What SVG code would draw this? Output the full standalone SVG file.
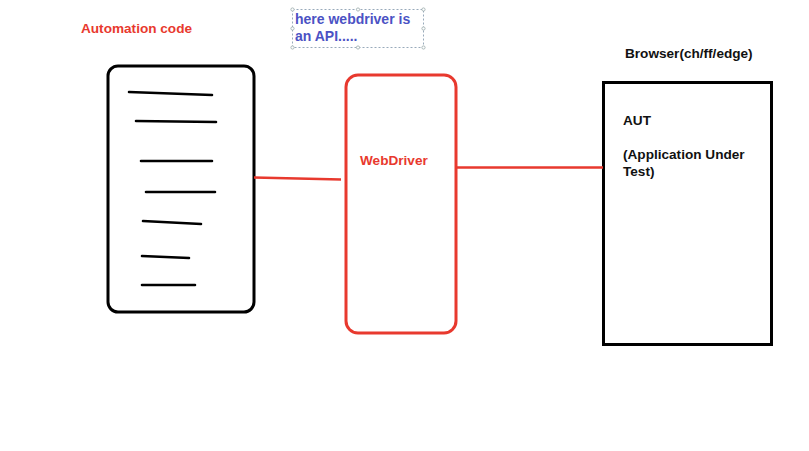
<svg xmlns="http://www.w3.org/2000/svg" width="809" height="451" viewBox="0 0 809 451">
<style>
.t{font-family:"Liberation Sans",Arial,sans-serif;font-weight:bold;font-size:13.6px}
.red{fill:#e8392e}
.blk{fill:#111}
.blue{fill:#4b52c4;font-size:14px}
.code{stroke:#000;stroke-width:2.6;stroke-linecap:round;fill:none}
.conn{stroke:#e8392e;stroke-width:2.6;fill:none}
.h{fill:#fff;stroke:#9aa;stroke-width:0.8}
</style>
<rect width="809" height="451" fill="#fff"/>
<text class="t red" x="81" y="33">Automation code</text>
<g id="note">
<rect x="292.5" y="9.5" width="131" height="38" fill="none" stroke="#9ab" stroke-width="1" stroke-dasharray="2,2"/>
<circle class="h" cx="292.5" cy="9.5" r="1.6"/><circle class="h" cx="358" cy="9.5" r="1.6"/><circle class="h" cx="423.5" cy="9.5" r="1.6"/>
<circle class="h" cx="292.5" cy="28.5" r="1.6"/><circle class="h" cx="423.5" cy="28.5" r="1.6"/>
<circle class="h" cx="292.5" cy="47.5" r="1.6"/><circle class="h" cx="358" cy="47.5" r="1.6"/><circle class="h" cx="423.5" cy="47.5" r="1.6"/>
<text class="t blue" x="295" y="24">here webdriver is</text>
<text class="t blue" x="295" y="41">an API.....</text>
</g>
<g id="automation">
<rect x="108" y="66" width="146" height="246" rx="10" fill="none" stroke="#000" stroke-width="3"/>
<path class="code" d="M129 92L212 95M136 121L216 122M141 161L212 161M146 192L215 192M143 221L201 224M142 256L189 258M142 285L195 285"/>
</g>
<g id="webdriver">
<rect x="346" y="75" width="110" height="258" rx="12" fill="none" stroke="#e8392e" stroke-width="3"/>
<text class="t red" x="360" y="165">WebDriver</text>
</g>
<g id="browser">
<text class="t blk" x="625" y="58">Browser(ch/ff/edge)</text>
<rect x="603.5" y="82.5" width="168" height="262" fill="none" stroke="#000" stroke-width="3"/>
<text class="t blk" x="623" y="125">AUT</text>
<text class="t blk" x="623" y="159">(Application Under</text>
<text class="t blk" x="623" y="176">Test)</text>
</g>
<g id="connectors">
<path class="conn" d="M254 177.5L341 179.5"/>
<path class="conn" d="M456 167.5L603 167.5"/>
</g>
</svg>
